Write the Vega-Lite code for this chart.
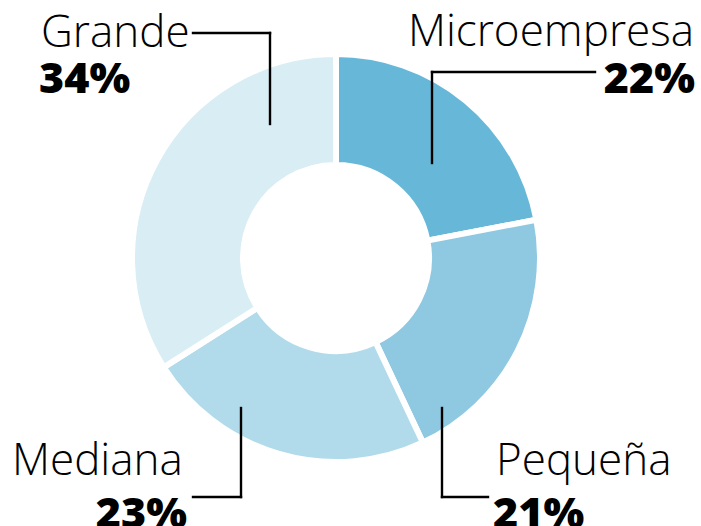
{
  "$schema": "https://vega.github.io/schema/vega-lite/v6.json",
  "width": 701,
  "height": 526,
  "autosize": {"type": "none"},
  "padding": 0,
  "background": "white",
  "config": {"view": {"stroke": null}},
  "datasets": {
    "slices": [
      {"segment": "Microempresa", "pct": 22, "idx": 1},
      {"segment": "Pequeña", "pct": 21, "idx": 2},
      {"segment": "Mediana", "pct": 23, "idx": 3},
      {"segment": "Grande", "pct": 34, "idx": 4}
    ],
    "leaders": [
      {"segment": "Grande", "x": 193, "y": 33, "x2": 270, "y2": 33},
      {"segment": "Grande", "x": 270, "y": 33, "x2": 270, "y2": 124},
      {"segment": "Microempresa", "x": 432, "y": 72, "x2": 595, "y2": 72},
      {"segment": "Microempresa", "x": 432, "y": 72, "x2": 432, "y2": 163},
      {"segment": "Mediana", "x": 241, "y": 408, "x2": 241, "y2": 497},
      {"segment": "Mediana", "x": 193, "y": 497, "x2": 241, "y2": 497},
      {"segment": "Pequeña", "x": 442, "y": 408, "x2": 442, "y2": 497},
      {"segment": "Pequeña", "x": 442, "y": 497, "x2": 488, "y2": 497}
    ],
    "names": [
      {"label": "Grande", "x": 41, "y": 47, "side": "left"},
      {"label": "Microempresa", "x": 694, "y": 46, "side": "right"},
      {"label": "Mediana", "x": 12, "y": 475, "side": "left"},
      {"label": "Pequeña", "x": 496, "y": 475, "side": "left"}
    ],
    "values": [
      {"label": "34%", "x": 39, "y": 93, "side": "left"},
      {"label": "22%", "x": 695, "y": 93, "side": "right"},
      {"label": "23%", "x": 187, "y": 528, "side": "right"},
      {"label": "21%", "x": 493, "y": 528, "side": "left"}
    ]
  },
  "layer": [
    {
      "data": {"name": "slices"},
      "mark": {"type": "arc", "outerRadius": 204, "innerRadius": 93, "stroke": "white", "strokeWidth": 6},
      "encoding": {
        "theta": {"field": "pct", "type": "quantitative", "stack": true},
        "order": {"field": "idx", "type": "quantitative"},
        "color": {
          "field": "segment",
          "type": "nominal",
          "scale": {"domain": ["Microempresa", "Pequeña", "Mediana", "Grande"], "range": ["#67b8d8", "#8fc8e1", "#b1dbea", "#d9edf4"]},
          "legend": null
        },
        "x": {"datum": 336, "type": "quantitative", "scale": {"domain": [0, 701], "nice": false, "zero": false}, "axis": null},
        "y": {"datum": 258, "type": "quantitative", "scale": {"domain": [0, 526], "nice": false, "zero": false, "reverse": true}, "axis": null}
      }
    },
    {
      "data": {"name": "leaders"},
      "mark": {"type": "rule", "color": "black", "strokeWidth": 2.4, "strokeCap": "square"},
      "encoding": {
        "x": {"field": "x", "type": "quantitative"},
        "y": {"field": "y", "type": "quantitative"},
        "x2": {"field": "x2"},
        "y2": {"field": "y2"}
      }
    },
    {
      "data": {"name": "names"},
      "transform": [{"filter": "datum.side === 'left'"}],
      "mark": {"type": "text", "align": "left", "baseline": "alphabetic", "font": "Open Sans", "fontWeight": 300, "fontSize": 44, "color": "black"},
      "encoding": {
        "x": {"field": "x", "type": "quantitative"},
        "y": {"field": "y", "type": "quantitative"},
        "text": {"field": "label"}
      }
    },
    {
      "data": {"name": "names"},
      "transform": [{"filter": "datum.side === 'right'"}],
      "mark": {"type": "text", "align": "right", "baseline": "alphabetic", "font": "Open Sans", "fontWeight": 300, "fontSize": 44, "color": "black"},
      "encoding": {
        "x": {"field": "x", "type": "quantitative"},
        "y": {"field": "y", "type": "quantitative"},
        "text": {"field": "label"}
      }
    },
    {
      "data": {"name": "values"},
      "transform": [{"filter": "datum.side === 'left'"}],
      "mark": {"type": "text", "align": "left", "baseline": "alphabetic", "font": "Open Sans", "fontWeight": 800, "fontSize": 43, "color": "black"},
      "encoding": {
        "x": {"field": "x", "type": "quantitative"},
        "y": {"field": "y", "type": "quantitative"},
        "text": {"field": "label"}
      }
    },
    {
      "data": {"name": "values"},
      "transform": [{"filter": "datum.side === 'right'"}],
      "mark": {"type": "text", "align": "right", "baseline": "alphabetic", "font": "Open Sans", "fontWeight": 800, "fontSize": 43, "color": "black"},
      "encoding": {
        "x": {"field": "x", "type": "quantitative"},
        "y": {"field": "y", "type": "quantitative"},
        "text": {"field": "label"}
      }
    }
  ]
}
